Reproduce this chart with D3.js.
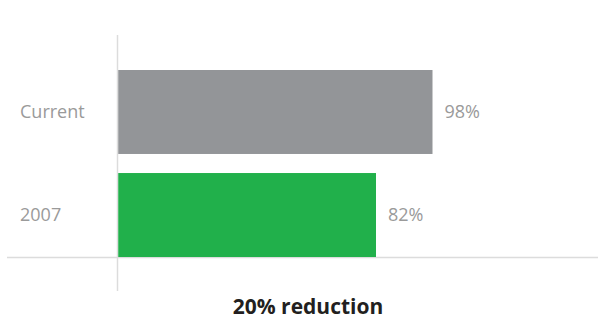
<!DOCTYPE html>
<html>
<head>
<meta charset="utf-8">
<script src="https://cdn.jsdelivr.net/npm/d3@7"></script>
<style>
  body { margin: 0; background: #fff; }
  text { font-family: "Open Sans", Lato, sans-serif; }
</style>
</head>
<body>
<div id="chart"></div>
<script>
var categories = ["Current", "2007"];
var values = [98, 82];
var valueLabels = ["98%", "82%"];
var colors = ["#939598", "#21b04b"];
var title = "20% reduction";

var w = 598;
var h = 320;
var axisX = 117.5;

var svg = d3.select("#chart")
  .append("svg")
  .attr("width", w)
  .attr("height", h);

// axis does not start at zero in the original
var xScale = d3.scaleLinear()
  .domain([8.8, 98])
  .range([axisX, 432.5]);

var yScale = d3.scaleBand()
  .domain(categories)
  .range([70, 257])
  .paddingInner(0.185)
  .paddingOuter(0);

// baseline + vertical axis
svg.append("line")
  .attr("x1", 7).attr("x2", w)
  .attr("y1", 257.5).attr("y2", 257.5)
  .attr("stroke", "#dcdcdc")
  .attr("stroke-width", 1.5);

svg.append("line")
  .attr("x1", axisX).attr("x2", axisX)
  .attr("y1", 35).attr("y2", 291)
  .attr("stroke", "#dcdcdc")
  .attr("stroke-width", 1.5);

var rows = svg.selectAll("g.row")
  .data(categories)
  .enter()
  .append("g")
  .attr("class", "row");

rows.append("rect")
  .attr("x", axisX + 0.75)
  .attr("y", function(d) { return yScale(d); })
  .attr("width", function(d, i) { return xScale(values[i]) - axisX - 0.75; })
  .attr("height", yScale.bandwidth())
  .attr("fill", function(d, i) { return colors[i]; });

rows.append("text")
  .attr("x", 20)
  .attr("y", function(d) { return yScale(d) + yScale.bandwidth() / 2; })
  .attr("dy", "0.35em")
  .attr("font-size", 18)
  .attr("fill", "#9a9a9a")
  .text(function(d) { return d; });

rows.append("text")
  .attr("x", function(d, i) { return xScale(values[i]) + 12; })
  .attr("y", function(d) { return yScale(d) + yScale.bandwidth() / 2; })
  .attr("dy", "0.35em")
  .attr("font-size", 18)
  .attr("fill", "#9a9a9a")
  .text(function(d, i) { return valueLabels[i]; });

svg.append("text")
  .attr("x", 308)
  .attr("y", 314)
  .attr("text-anchor", "middle")
  .attr("font-size", 21)
  .attr("font-weight", "bold")
  .attr("fill", "#231f20")
  .text(title);
</script>
</body>
</html>
